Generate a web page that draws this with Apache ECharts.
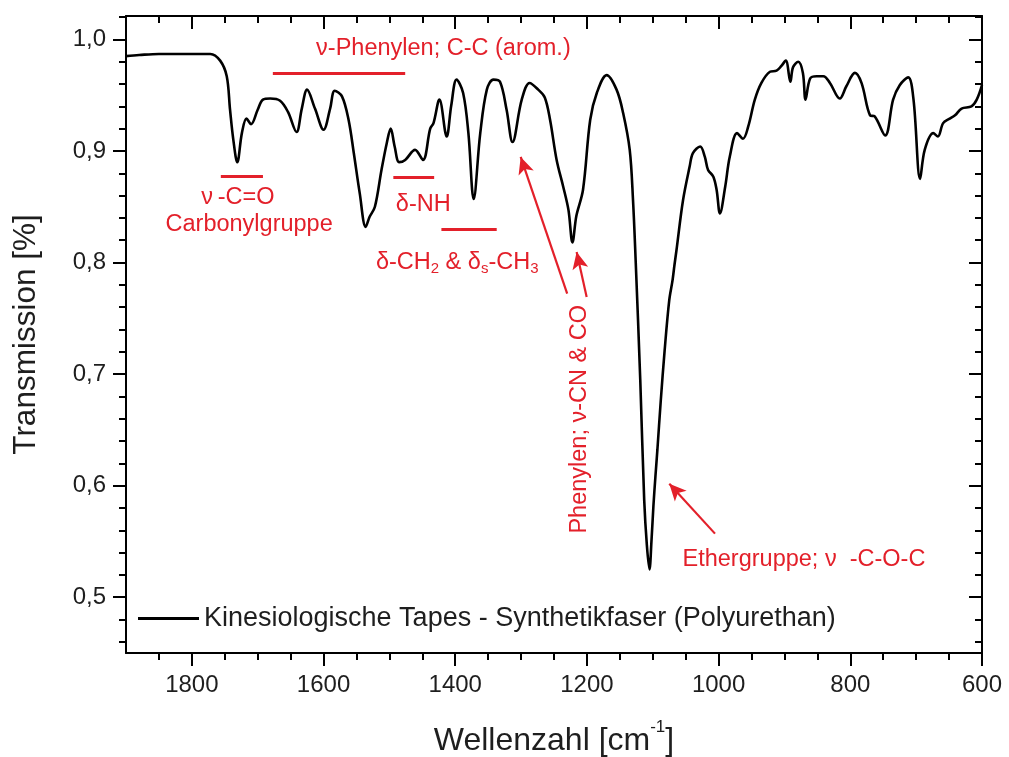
<!DOCTYPE html>
<html><head><meta charset="utf-8">
<script src="https://cdn.jsdelivr.net/npm/echarts@6/dist/echarts.min.js"></script>
<style>html,body{margin:0;padding:0;background:#fff}#c{width:1009px;height:757px}</style>
</head><body><div id="c"></div>
<script>
// Spectrum
const wavenumber = [1900,1880,1850,1800,1772,1757,1747,1742,1737,1731,1724,1717,1710,1700,1692,1681,1666,1654,1641,1633,1625,1613,1600,1590,1583,1572,1562,1554,1545,1536,1530,1522,1512,1504,1498,1492,1485,1476,1461,1449,1438,1433,1424,1413,1406,1398,1388,1380,1372,1362,1352,1342,1332,1322,1313,1299,1287,1274,1264,1256,1246,1236,1228,1222,1216,1206,1195,1185,1170,1155,1145,1135,1130,1126,1119,1113,1109,1105,1102,1099,1096,1093,1088,1082,1075,1070,1067,1064,1054,1044,1039,1028,1021,1016,1008,1003,998,990,983,972,963,955,945,935,922,912,905,898,891,887,879,872,868,861,851,841,831,816,806,793,783,770,763,747,735,725,712,704,694,687,674,667,659,649,641,631,616,608,600];
const transmission = [0.985,0.986,0.987,0.987,0.987,0.981,0.967,0.937,0.910,0.890,0.916,0.929,0.924,0.937,0.946,0.947,0.945,0.935,0.917,0.938,0.955,0.938,0.919,0.938,0.954,0.949,0.928,0.898,0.862,0.832,0.841,0.850,0.883,0.907,0.920,0.904,0.890,0.892,0.901,0.892,0.920,0.925,0.946,0.913,0.941,0.964,0.952,0.916,0.857,0.916,0.955,0.964,0.962,0.937,0.908,0.946,0.961,0.955,0.948,0.928,0.892,0.868,0.847,0.818,0.842,0.865,0.928,0.952,0.968,0.955,0.934,0.901,0.856,0.802,0.695,0.587,0.547,0.525,0.550,0.582,0.608,0.632,0.675,0.721,0.766,0.784,0.798,0.811,0.856,0.886,0.898,0.904,0.895,0.883,0.877,0.865,0.844,0.868,0.895,0.916,0.911,0.922,0.946,0.961,0.971,0.972,0.976,0.981,0.962,0.975,0.980,0.970,0.946,0.965,0.967,0.967,0.961,0.947,0.958,0.970,0.961,0.932,0.931,0.914,0.946,0.959,0.966,0.946,0.875,0.901,0.916,0.913,0.925,0.929,0.932,0.938,0.940,0.946,0.959];
const xTickValues = [600,800,1000,1200,1400,1600,1800];
const yTickValues = [0.5,0.6,0.7,0.8,0.9,1.0];
const seriesName = 'Kinesiologische Tapes - Synthetikfaser (Polyurethan)';
const xTitle = 'Wellenzahl [cm{sup|-1}]';
const yTitle = 'Transmission [%]';

// Annotation bars [from, to, level] and arrows [tailX, tailY, headX, headY] in data units
const bandBars = [[1677,1476,0.970],[1756,1692,0.8774],[1494,1432,0.8762],[1421,1337,0.8299]];
const arrows = [[1230,0.7722,1300.6,0.8947],[1200.4,0.7692,1215.6,0.8095],[1005.5,0.557,1074.9,0.6018]];
const labels = [
  {text:'ν-Phenylen; C-C (arom.)', at:[1418,0.9922]},
  {text:'ν\u2009-C=O', at:[1730,0.8586]},
  {text:'Carbonylgruppe', at:[1713,0.8344]},
  {text:'δ-NH', at:[1448.5,0.8523]},
  {text:'δ-CH{sub|2} & δ{sub|s}-CH{sub|3}', at:[1397,0.8003]},
  {text:'Phenylen; ν-CN & CO', at:[1212,0.6595], rotate:true},
  {text:'Ethergruppe; ν  -C-O-C', at:[870.4,0.5336]}
];

const FONT = '"Liberation Sans", Arial, Helvetica, sans-serif';
const RED = '#e3202a';
const INK = '#1e1e1e';
const axisLine = {show:true, lineStyle:{color:'#000', width:2}};
const tickStyle = {color:'#000', width:2};
const yFmt = v => v.toFixed(1).replace('.', ',');

const chart = echarts.init(document.getElementById('c'), null, {renderer:'canvas'});

const markData = [];
bandBars.forEach(b => markData.push([
  {coord:[b[0], b[2]], symbol:'none', lineStyle:{color:RED, width:3.2, type:'solid'}},
  {coord:[b[1], b[2]], symbol:'none'}
]));
arrows.forEach(a => markData.push([
  {coord:[a[0], a[1]], symbol:'none', lineStyle:{color:RED, width:2.2, type:'solid'}},
  {coord:[a[2], a[3]], symbol:'arrow', symbolSize:[12,17]}
]));

const option = {
  animation:false,
  backgroundColor:'#fff',
  textStyle:{fontFamily:FONT},
  grid:{left:126, right:27, top:16, bottom:104, containLabel:false, outerBoundsMode:'none'},
  legend:{
    show:true, left:138, top:605, padding:0, itemWidth:61, itemHeight:3, icon:'rect',
    itemStyle:{color:'#000'},
    textStyle:{fontSize:27, color:INK, fontFamily:FONT},
    data:[seriesName]
  },
  xAxis:[
    {type:'value', position:'bottom', min:600, max:1900, interval:200, inverse:true,
     axisLine, splitLine:{show:false},
     axisTick:{show:true, inside:false, length:13, lineStyle:tickStyle, customValues:xTickValues},
     minorTick:{show:true, splitNumber:4, length:7, lineStyle:tickStyle},
     axisLabel:{show:true, margin:20, fontSize:24, color:INK, fontFamily:FONT, customValues:xTickValues,
       formatter:v => (v % 200 === 0 ? String(v) : '')},
     name:xTitle, nameLocation:'middle', nameGap:66,
     nameTextStyle:{fontSize:32, color:INK, fontFamily:FONT,
       rich:{sup:{fontSize:17, color:INK, fontFamily:FONT, padding:[0,0,28,0]}}}
    },
    {type:'value', position:'top', min:600, max:1900, interval:200, inverse:true,
     axisLine, splitLine:{show:false},
     axisTick:{show:true, inside:true, length:13, lineStyle:tickStyle, customValues:xTickValues},
     minorTick:{show:true, splitNumber:4, length:7, lineStyle:tickStyle},
     axisLabel:{show:false}
    }
  ],
  yAxis:[
    {type:'value', position:'left', min:0.45, max:1.021, minInterval:0.1, maxInterval:0.1,
     axisLine, splitLine:{show:false},
     axisTick:{show:true, inside:false, length:13, lineStyle:tickStyle, customValues:yTickValues},
     minorTick:{show:true, splitNumber:5, length:7, lineStyle:tickStyle},
     axisLabel:{show:true, margin:20, fontSize:24, color:INK, fontFamily:FONT, customValues:yTickValues,
       formatter:v => (Math.abs(v*10 - Math.round(v*10)) < 1e-6 ? yFmt(v) : '')},
     name:yTitle, nameLocation:'middle', nameGap:84, nameRotate:90,
     nameTextStyle:{fontSize:31.5, color:INK, fontFamily:FONT}
    },
    {type:'value', position:'right', min:0.45, max:1.021, minInterval:0.1, maxInterval:0.1,
     axisLine, splitLine:{show:false},
     axisTick:{show:true, inside:true, length:13, lineStyle:tickStyle, customValues:yTickValues},
     minorTick:{show:true, splitNumber:5, length:7, lineStyle:tickStyle},
     axisLabel:{show:false}
    }
  ],
  series:[{
    name:seriesName, type:'line', xAxisIndex:0, yAxisIndex:0,
    data:wavenumber.map((w,i)=>[w, transmission[i]]),
    showSymbol:false, symbol:'none', smooth:0.35,
    lineStyle:{color:'#000', width:2.6},
    itemStyle:{color:'#000'},
    emphasis:{disabled:true},
    markLine:{silent:true, animation:false, label:{show:false}, symbol:'none', data:markData}
  }]
};
chart.setOption(option);

const graphics = labels.map(l => {
  const p = chart.convertToPixel({xAxisIndex:0, yAxisIndex:0}, l.at);
  return {
    type:'text', x:p[0], y:p[1], rotation: l.rotate ? Math.PI/2 : 0, silent:true,
    style:{text:l.text, fill:RED, fontSize:23.5, fontFamily:FONT, align:'center', verticalAlign:'middle',
      rich:{sub:{fontSize:15, fill:RED, fontFamily:FONT, padding:[14,0,0,0]}}}
  };
});
chart.setOption({graphic:graphics});
</script></body></html>
